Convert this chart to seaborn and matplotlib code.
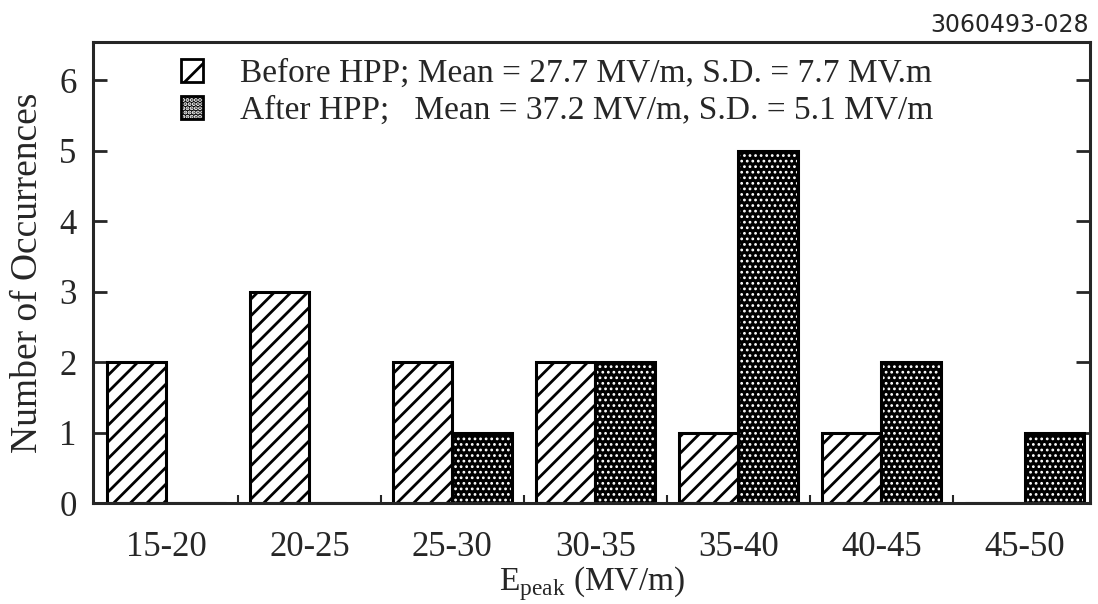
import matplotlib
matplotlib.use("Agg")
import matplotlib.pyplot as plt
import seaborn as sns
import pandas as pd
import numpy as np
from matplotlib.patches import Patch

categories = ["15-20", "20-25", "25-30", "30-35", "35-40", "40-45", "45-50"]
before = [2, 3, 2, 2, 1, 1, 0]
after = [0, 0, 1, 2, 5, 2, 1]
series = ["Before HPP; Mean = 27.7 MV/m, S.D. = 7.7 MV.m",
          "After HPP;   Mean = 37.2 MV/m, S.D. = 5.1 MV/m"]
yticks = [0, 1, 2, 3, 4, 5, 6]

sns.set_style("ticks")
plt.rcParams["font.family"] = ["Liberation Serif", "DejaVu Serif"]
plt.rcParams["mathtext.fontset"] = "custom"
plt.rcParams["mathtext.rm"] = "Liberation Serif"
plt.rcParams["hatch.linewidth"] = 2.0

df = pd.DataFrame({
    "range": categories * 2,
    "count": before + after,
    "group": [series[0]] * len(categories) + [series[1]] * len(categories),
})

fig = plt.figure(figsize=(10.98, 6.04), dpi=100)
ax = fig.add_axes([0.085, 0.167, 0.908, 0.763])

sns.barplot(data=df, x="range", y="count", hue="group", order=categories,
            hue_order=series, palette=["white", "black"], width=0.83,
            edgecolor="black", linewidth=2.2, saturation=1, legend=False, ax=ax)


def dotted(p):
    p.set_facecolor("black")
    p.set_hatch("...")
    p._hatch_color = (1, 1, 1, 1)
    if hasattr(p, "set_hatch_linewidth"):
        p.set_hatch_linewidth(1.2)


n = len(categories)
for i, p in enumerate(ax.patches[:2 * n]):
    if i < n:
        p.set_facecolor("white")
        p.set_hatch("//")
    else:
        dotted(p)

h_before = Patch(facecolor="white", edgecolor="black", hatch="/", linewidth=2)
h_after = Patch(facecolor="black", edgecolor="black", linewidth=2)
dotted(h_after)
h_after.set_hatch("....")
leg = ax.legend([h_before, h_after], series, loc="upper left",
                bbox_to_anchor=(0.068, 1.008),
                frameon=False, fontsize=24, handlelength=0.66, handleheight=0.66,
                handletextpad=1.1, labelspacing=0.2, borderaxespad=0.2)

ax.set_xlim(-0.51, 6.46)
ax.set_ylim(0, 6.54)
ax.set_yticks(yticks)
ax.set_xticks(np.arange(n))
ax.set_xticklabels(categories)
ax.set_xticks(np.arange(n - 1) + 0.5, minor=True)
ax.tick_params(axis="x", which="major", length=0, labelsize=25, pad=20)
ax.tick_params(axis="x", which="minor", direction="in", length=6, width=1.5)
ax.tick_params(axis="y", direction="in", length=10, width=2, labelsize=25,
               right=True, pad=12)
for s in ax.spines.values():
    s.set_visible(True)
    s.set_linewidth(2.2)

ax.set_xlabel(r"E$_{\mathrm{peak}}$ (MV/m)", fontsize=24, labelpad=0)
ax.set_ylabel("Number of Occurrences", fontsize=27, labelpad=10)

fig.text(0.992, 0.938, "3060493-028", ha="right", va="bottom", fontsize=17,
         family="DejaVu Sans")

fig.savefig("out.png", dpi=100)
